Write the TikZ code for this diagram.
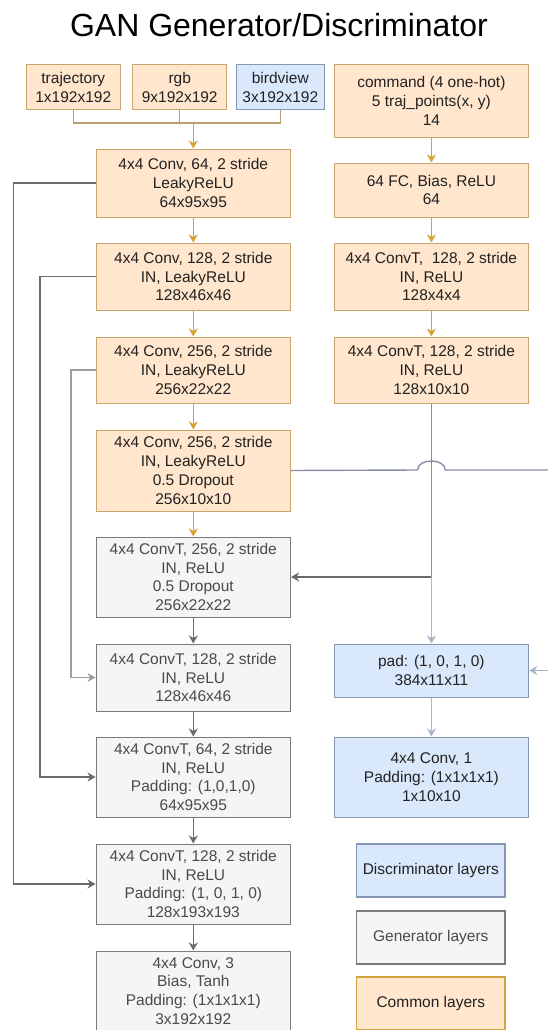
\documentclass[tikz,border=0pt]{standalone}
\usepackage{fontspec}
\setmainfont{Liberation Sans}
\usetikzlibrary{
    arrows.meta,
    calc
}
\definecolor{ComFill}{HTML}{FFE6CC}
\definecolor{ComLine}{HTML}{C9A46E}
\definecolor{ComArrow}{HTML}{D7A12E}
\definecolor{GenFill}{HTML}{F5F5F5}
\definecolor{GenLine}{HTML}{7A7A7A}
\definecolor{DisFill}{HTML}{DAE8FC}
\definecolor{DisLine}{HTML}{8597B3}
\definecolor{DisArrow}{HTML}{7089B0}
\definecolor{PaleBlue}{HTML}{A9B8CD}
\definecolor{LinkGray}{HTML}{6A6A6A}
\definecolor{LinkBlue}{HTML}{858FA1}
\definecolor{TxtDark}{HTML}{222222}
\definecolor{TxtGray}{HTML}{4A4A4A}
\newcommand{\boxfont}{\fontsize{15.5}{18.8}\selectfont}
\tikzset{
  cbox/.style  = {draw=ComLine, fill=ComFill, text=TxtDark, line width=1pt,
                  minimum width=194.5pt, inner sep=0pt, align=center, font=\boxfont},
  gbox/.style  = {draw=GenLine, fill=GenFill, text=TxtGray, line width=1pt,
                  minimum width=194.5pt, inner sep=0pt, align=center, font=\boxfont},
  dbox/.style  = {draw=DisLine, fill=DisFill, text=TxtDark, line width=1pt,
                  minimum width=194.5pt, inner sep=0pt, align=center, font=\boxfont},
  legbox/.style = {minimum width=148.3pt, minimum height=53pt, line width=1.6pt},
  arro/.style  = {-{Stealth[length=8pt,width=9pt,inset=2.5pt]}, ComArrow, line width=1.4pt},
  arrg/.style  = {-{Stealth[length=8pt,width=9pt,inset=2.5pt]}, LinkGray, line width=1.4pt},
  arrb/.style  = {-{Stealth[length=8pt,width=9pt,inset=2.5pt,fill=DisArrow]}, PaleBlue, line width=1.4pt},
  link/.style  = {LinkBlue, line width=1.4pt},
  brk/.style   = {ComLine!80!gray, line width=1.3pt}
}

\begin{document}
\begin{tikzpicture}[x=1pt, y=-1pt]
\useasboundingbox (0,0) rectangle (547,1030);
\node (title) at (279,25) {\fontsize{32}{38}\selectfont GAN Generator/Discriminator};

% inputs
\node[cbox, minimum width=94.2pt, minimum height=45pt] (traj) at (73.3,87.5) {trajectory\\1x192x192};
\node[cbox, minimum width=94.2pt, minimum height=45pt] (rgb) at (179.7,87.5) {rgb\\9x192x192};
\node[dbox, minimum width=88.3pt, minimum height=45pt] (bird) at (280.3,87.5) {birdview\\3x192x192};
\node[cbox, minimum height=72pt] (cmd) at (431.4,101) {command (4 one-hot)\\5 traj\_points(x, y)\\14};

% encoder
\node[cbox, minimum height=68pt] (enca) at (193.3,183) {4x4 Conv, 64, 2 stride\\LeakyReLU\\64x95x95};
\node[cbox, minimum height=67pt] (encb) at (193.3,276.5) {4x4 Conv, 128, 2 stride\\IN, LeakyReLU\\128x46x46};
\node[cbox, minimum height=66pt] (encc) at (193.3,370) {4x4 Conv, 256, 2 stride\\IN, LeakyReLU\\256x22x22};
\node[cbox, minimum height=81pt] (encd) at (193.3,470.5) {4x4 Conv, 256, 2 stride\\IN, LeakyReLU\\0.5 Dropout\\256x10x10};

% decoder
\node[gbox, minimum height=80pt] (deca) at (193.3,577) {4x4 ConvT, 256, 2 stride\\IN, ReLU\\0.5 Dropout\\256x22x22};
\node[gbox, minimum height=67pt] (decb) at (193.3,677.5) {4x4 ConvT, 128, 2 stride\\IN, ReLU\\128x46x46};
\node[gbox, minimum height=80pt] (decc) at (193.3,777) {4x4 ConvT, 64, 2 stride\\IN, ReLU\\Padding: (1,0,1,0)\\64x95x95};
\node[gbox, minimum height=80pt] (decd) at (193.3,884) {4x4 ConvT, 128, 2 stride\\IN, ReLU\\Padding: (1, 0, 1, 0)\\128x193x193};
\node[gbox, minimum height=80pt] (dece) at (193.3,991) {4x4 Conv, 3\\Bias, Tanh\\Padding: (1x1x1x1)\\3x192x192};

% command branch and discriminator
\node[cbox, minimum height=54pt] (fc) at (431.4,190) {64 FC, Bias, ReLU\\64};
\node[cbox, minimum height=67pt] (upa) at (431.4,276.5) {4x4 ConvT,\ \ 128, 2 stride\\IN, ReLU\\128x4x4};
\node[cbox, minimum height=66pt] (upb) at (431.4,370) {4x4 ConvT, 128, 2 stride\\IN, ReLU\\128x10x10};
\node[dbox, minimum height=53pt] (pad) at (431.4,670.5) {pad: (1, 0, 1, 0)\\384x11x11};
\node[dbox, minimum height=80pt] (disc) at (431.4,777) {4x4 Conv, 1\\Padding: (1x1x1x1)\\1x10x10};

% legend
\node[dbox, legbox] (legd) at (430.8,870.5) {Discriminator layers};
\node[gbox, legbox] (legg) at (430.8,937.5) {Generator layers};
\node[cbox, legbox, draw=ComArrow!70!ComLine] (legc) at (430.8,1003.5) {Common layers};

% input bracket
\coordinate (jn) at (193.3,123);
\draw[brk] (traj.south) -- (traj.south |- jn) -- (bird.south |- jn) -- (bird.south);
\draw[brk] (rgb.south) -- (rgb.south |- jn);
\draw[arro] (jn) -- (enca.north);

% main path
\draw[arro] (enca) -- (encb);
\draw[arro] (encb) -- (encc);
\draw[arro] (encc) -- (encd);
\draw[arro] (encd) -- (deca);
\draw[arrg] (deca) -- (decb);
\draw[arrg] (decb) -- (decc);
\draw[arrg] (decc) -- (decd);
\draw[arrg] (decd) -- (dece);
\draw[arro] (cmd) -- (fc);
\draw[arro] (fc) -- (upa);
\draw[arro] (upa) -- (upb);
\draw[arrb] (pad) -- (disc);

% skip connections
\coordinate (sa) at (13.3,0);
\coordinate (sb) at (40.1,0);
\coordinate (sc) at (70.8,0);
\draw[arrg] (enca.west) -- (enca.west -| sa) -- (decd.west -| sa) -- (decd.west);
\draw[arrg] (encb.west) -- (encb.west -| sb) -- (decc.west -| sb) -- (decc.west);
\draw[arrg, LinkGray!65] (encc.west) -- (encc.west -| sc) -- (decb.west -| sc) -- (decb.west);

% command features into decoder and discriminator
\coordinate (br) at (431.4,577);
\coordinate (hop) at (431.4,470);
\coordinate (rim) at (560,470);
\draw[link] (upb.south) -- (br);
\draw[arrg] (br) -- (deca.east);
\draw[arrb] (br) -- (pad.north);
\draw[link] (encd.east) -- ($(hop)+(-13.8,0)$)
  .. controls ($(hop)+(-13.8,-12)$) and ($(hop)+(13.8,-12)$) .. ($(hop)+(13.8,0)$) -- (rim);
\draw[arrb] (rim) |- (pad.east);
\end{tikzpicture}
\end{document}
